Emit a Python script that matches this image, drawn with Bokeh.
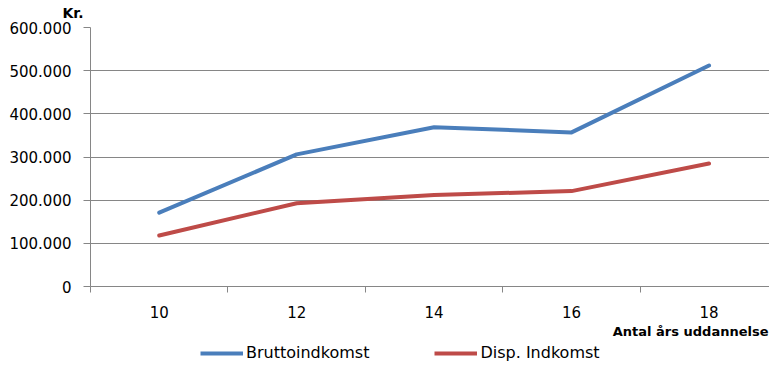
from bokeh.plotting import figure
from bokeh.layouts import column
from bokeh.models import (ColumnDataSource, Range1d, FixedTicker, CustomJSTickFormatter,
                          Legend, LegendItem, Title, Label)
from bokeh.embed import file_html
from bokeh.resources import INLINE

# Data
years = [10, 12, 14, 16, 18]
brutto = [171000, 306000, 369000, 357000, 512000]
disp = [118000, 193000, 212000, 221000, 285000]
y_ticks = [0, 100000, 200000, 300000, 400000, 500000, 600000]
series_names = ["Bruttoindkomst", "Disp. Indkomst"]
colors = ["#4A7EBB", "#BE4B48"]
x_title = "Antal års uddannelse"
y_title = "Kr."

src = ColumnDataSource(dict(x=years, b=brutto, d=disp))

p = figure(frame_width=679, frame_height=259, output_backend="svg", toolbar_location=None,
           x_range=Range1d(9, 18.88), y_range=Range1d(0, 600000),
           min_border_left=90, min_border_right=0, min_border_top=27, min_border_bottom=0)
p.outline_line_color = None
p.background_fill_color = "white"
p.border_fill_color = "white"

p.line("x", "b", source=src, line_color=colors[0], line_width=4, line_cap="round", line_join="round")
p.line("x", "d", source=src, line_color=colors[1], line_width=4, line_cap="round", line_join="round")

grid_gray = "#868686"
p.xgrid.grid_line_color = None
p.ygrid.grid_line_color = grid_gray
p.ygrid.grid_line_width = 1

# x axis
p.xaxis.ticker = FixedTicker(ticks=years, minor_ticks=[9, 11, 13, 15, 17, 19])
p.xaxis.major_tick_out = 0
p.xaxis.major_tick_in = 0
p.xaxis.minor_tick_out = 6
p.xaxis.minor_tick_in = 0
p.xaxis.minor_tick_line_color = grid_gray
p.xaxis.axis_line_color = grid_gray
p.xaxis.major_label_standoff = 13
p.xaxis.major_label_text_font = "DejaVu Sans"
p.xaxis.major_label_text_font_size = "15px"
p.xaxis.major_label_text_color = "black"

# y axis
p.yaxis.ticker = FixedTicker(ticks=y_ticks)
p.yaxis.minor_tick_line_color = None
p.yaxis.major_tick_out = 7
p.yaxis.major_tick_in = 0
p.yaxis.major_tick_line_color = grid_gray
p.yaxis.axis_line_color = grid_gray
p.yaxis.major_label_standoff = 12
p.yaxis.major_label_text_font = "DejaVu Sans"
p.yaxis.major_label_text_font_size = "15px"
p.yaxis.major_label_text_color = "black"
p.yaxis.formatter = CustomJSTickFormatter(code="""
    return String(Math.round(tick)).replace(/\\B(?=(\\d{3})+(?!\\d))/g, ".");
""")

p.add_layout(Title(text=y_title, align="left", offset=-28, standoff=9, vertical_align="top",
                   text_font="DejaVu Sans", text_font_style="bold", text_font_size="14px",
                   text_color="black"), "above")

# Bottom strip: x-axis title and legend (frame aligned with the main plot's frame)
p2 = figure(width=769, height=44, output_backend="svg", toolbar_location=None,
            x_axis_location=None, y_axis_location=None,
            x_range=Range1d(0, 1), y_range=Range1d(0, 1),
            min_border_left=0, min_border_right=0, min_border_top=0, min_border_bottom=0)
p2.outline_line_color = None
p2.xgrid.grid_line_color = None
p2.ygrid.grid_line_color = None
p2.border_fill_color = "white"
l1 = p2.line("x", "b", source=src, line_color=colors[0], line_width=4)
l2 = p2.line("x", "d", source=src, line_color=colors[1], line_width=4)

p2.add_layout(Label(x=678, y=33, x_units="screen", y_units="screen", text=x_title,
                    text_font="DejaVu Sans", text_font_style="bold", text_font_size="13px",
                    text_align="right", text_baseline="middle", text_color="black"))

legend = Legend(items=[LegendItem(label=series_names[0], renderers=[l1]),
                       LegendItem(label=series_names[1], renderers=[l2])],
                orientation="horizontal", location=(110, 2),
                glyph_width=43, glyph_height=16, label_standoff=3, spacing=65,
                padding=0, margin=0, border_line_color=None, background_fill_alpha=0,
                label_text_font="DejaVu Sans", label_text_font_size="16px",
                label_text_color="black")
p2.add_layout(legend)

layout = column(p, p2, spacing=0)
open("out.html", "w").write(file_html(layout, INLINE))
